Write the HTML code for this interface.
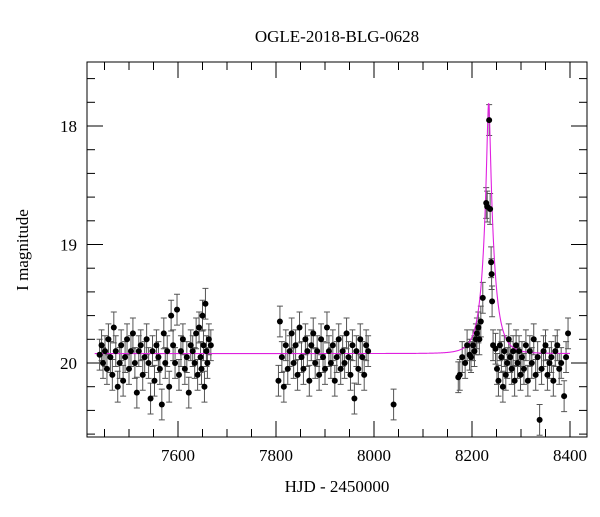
<!DOCTYPE html>
<html><head><meta charset="utf-8">
<style>
body{margin:0;background:#fff;}
svg text{font-family:"Liberation Serif",serif;fill:#000;}
</style></head>
<body>
<svg id="chart" width="600" height="512" xmlns="http://www.w3.org/2000/svg">
<text x="337" y="42" font-size="17" text-anchor="middle">OGLE-2018-BLG-0628</text>
<text x="337" y="492" font-size="17" text-anchor="middle">HJD - 2450000</text>
<text transform="translate(28,250) rotate(-90)" font-size="17" text-anchor="middle">I magnitude</text>
<g id="plot"></g>
</svg>
<script>
const xTicks=[7600,7800,8000,8200,8400];
const yTicks=[18,19,20];
const times=[7440,7444,7447,7451,7455,7458,7462,7466,7469,7473,7477,7481,7484,7488,7492,7496,7500,7504,7508,7512,7516,7520,7524,7528,7532,7536,7540,7544,7548,7552,7556,7560,7563,7567,7571,7574,7578,7582,7586,7590,7594,7598,7602,7606,7610,7614,7618,7622,7626,7630,7634,7637,7640,7643,7646,7648,7650,7652,7654,7656,7658,7660,7663,7667,
7805,7808,7812,7816,7820,7824,7828,7832,7836,7840,7844,7848,7852,7856,7860,7864,7868,7872,7876,7880,7884,7888,7892,7896,7900,7904,7908,7912,7916,7920,7924,7928,7932,7936,7940,7944,7948,7952,7956,7960,7964,7968,7972,7976,7980,7984,7988,8040,
8172,8175,8180,8186,8190,8195,8198,8202,8205,8208,8210,8213,8215,8218,8222,8229,8231,8235,8237,8239,8240,8241,8243,
8248,8251,8254,8257,8260,8263,8266,8269,8272,8275,8278,8281,8284,8287,8290,8293,8296,8299,8302,8306,8310,8314,8318,8322,8326,8330,8334,8338,8342,8346,8350,8354,8358,8362,8366,8370,8374,8378,8382,8388,8392,8396];
const mags=[19.93,19.85,20.0,19.9,20.05,19.8,19.95,20.1,19.7,19.9,20.2,20.0,19.85,20.15,19.95,19.8,20.05,19.9,19.75,20.0,20.25,19.9,19.85,20.1,19.95,19.8,20.0,20.3,19.9,20.15,19.85,19.95,20.05,20.35,19.75,20.0,19.9,20.2,19.6,19.85,20.0,19.55,20.1,19.9,19.8,20.05,19.95,20.25,19.85,19.9,20.0,19.75,20.1,19.7,19.95,20.05,19.6,19.85,20.2,19.5,19.9,20.0,19.8,19.85,
20.15,19.65,19.95,20.2,19.85,20.05,19.9,19.75,20.0,19.85,20.1,19.7,19.95,20.05,19.8,19.9,20.15,19.85,19.75,20.0,19.9,20.1,19.8,19.95,20.05,19.7,19.9,20.0,19.85,20.15,19.95,19.8,20.05,19.9,20.0,19.75,19.95,20.1,19.85,20.3,19.9,20.05,19.8,19.95,20.1,19.85,19.9,20.35,
20.12,20.1,19.95,20.0,19.85,19.93,19.95,19.85,19.9,19.8,19.75,19.7,19.8,19.65,19.45,18.65,18.68,17.95,18.7,19.15,19.25,19.48,19.85,
19.88,20.05,20.15,19.85,19.95,20.2,19.9,20.1,20.0,19.8,19.95,20.05,19.9,20.15,19.85,20.0,19.9,20.1,19.95,20.05,19.85,20.15,19.9,20.0,19.8,20.1,19.95,20.48,20.05,19.9,19.85,20.1,20.0,19.95,20.15,19.9,19.85,20.05,20.0,20.28,19.95,19.75];
const model={t0:8234,tE:23,u0:0.144,base:19.92};
const ns="http://www.w3.org/2000/svg";
const L=87,R=587,T=62,B=437;
const xs=t=>178+(t-7600)*0.49;
const ys=m=>126+(m-18)*118.5;
const g=document.getElementById('plot');
function mk(tag,attrs){const e=document.createElementNS(ns,tag);for(const k in attrs)e.setAttribute(k,attrs[k]);g.appendChild(e);return e;}
const frame=mk('rect',{x:L,y:T,width:R-L,height:B-T,fill:'none',stroke:'#000','stroke-width':1});


for(let v=7450;v<=8430;v+=50){const x=xs(v);const major=(v%200===0);const len=major?16:8;
 const a=mk('line',{x1:x,x2:x,y1:B,y2:B-len,stroke:'#000'});
 const b=mk('line',{x1:x,x2:x,y1:T,y2:T+len,stroke:'#000'});}
xTicks.forEach(v=>{const t=mk('text',{x:xs(v),y:B+24,'font-size':17,'text-anchor':'middle'});t.textContent=v;});
for(let i=88;i<=206;i++){const v=i/5;const y=ys(v);if(y<T||y>B)continue;const major=(i%5===0);const len=major?16:8;
 const a=mk('line',{x1:L,x2:L+len,y1:y,y2:y,stroke:'#000'});
 const b=mk('line',{x1:R,x2:R-len,y1:y,y2:y,stroke:'#000'});}
yTicks.forEach(v=>{const t=mk('text',{x:L-10,y:ys(v)+6,'font-size':17,'text-anchor':'end'});t.textContent=v;});
times.forEach((t,i)=>{const x=xs(t);const e=0.13;
 const eb=mk('path',{d:`M${x},${ys(mags[i]-e)}V${ys(mags[i]+e)}M${x-3},${ys(mags[i]-e)}h6M${x-3},${ys(mags[i]+e)}h6`,stroke:'#555','stroke-width':1,fill:'none'});
 });
let d='';for(let t=7430;t<=8400;t+=0.5){const u=Math.sqrt(model.u0**2+((t-model.t0)/model.tE)**2);const A=(u*u+2)/(u*Math.sqrt(u*u+4));const m=model.base-2.5*Math.log10(A);d+=(d?'L':'M')+xs(t).toFixed(2)+','+ys(m).toFixed(2);}
const ml=mk('path',{d:d,stroke:'#e020e0','stroke-width':1.1,fill:'none'});

times.forEach((t,i)=>{const c=mk('circle',{cx:xs(t),cy:ys(mags[i]),r:3,fill:'#000'});
 });
</script>
</body></html>
